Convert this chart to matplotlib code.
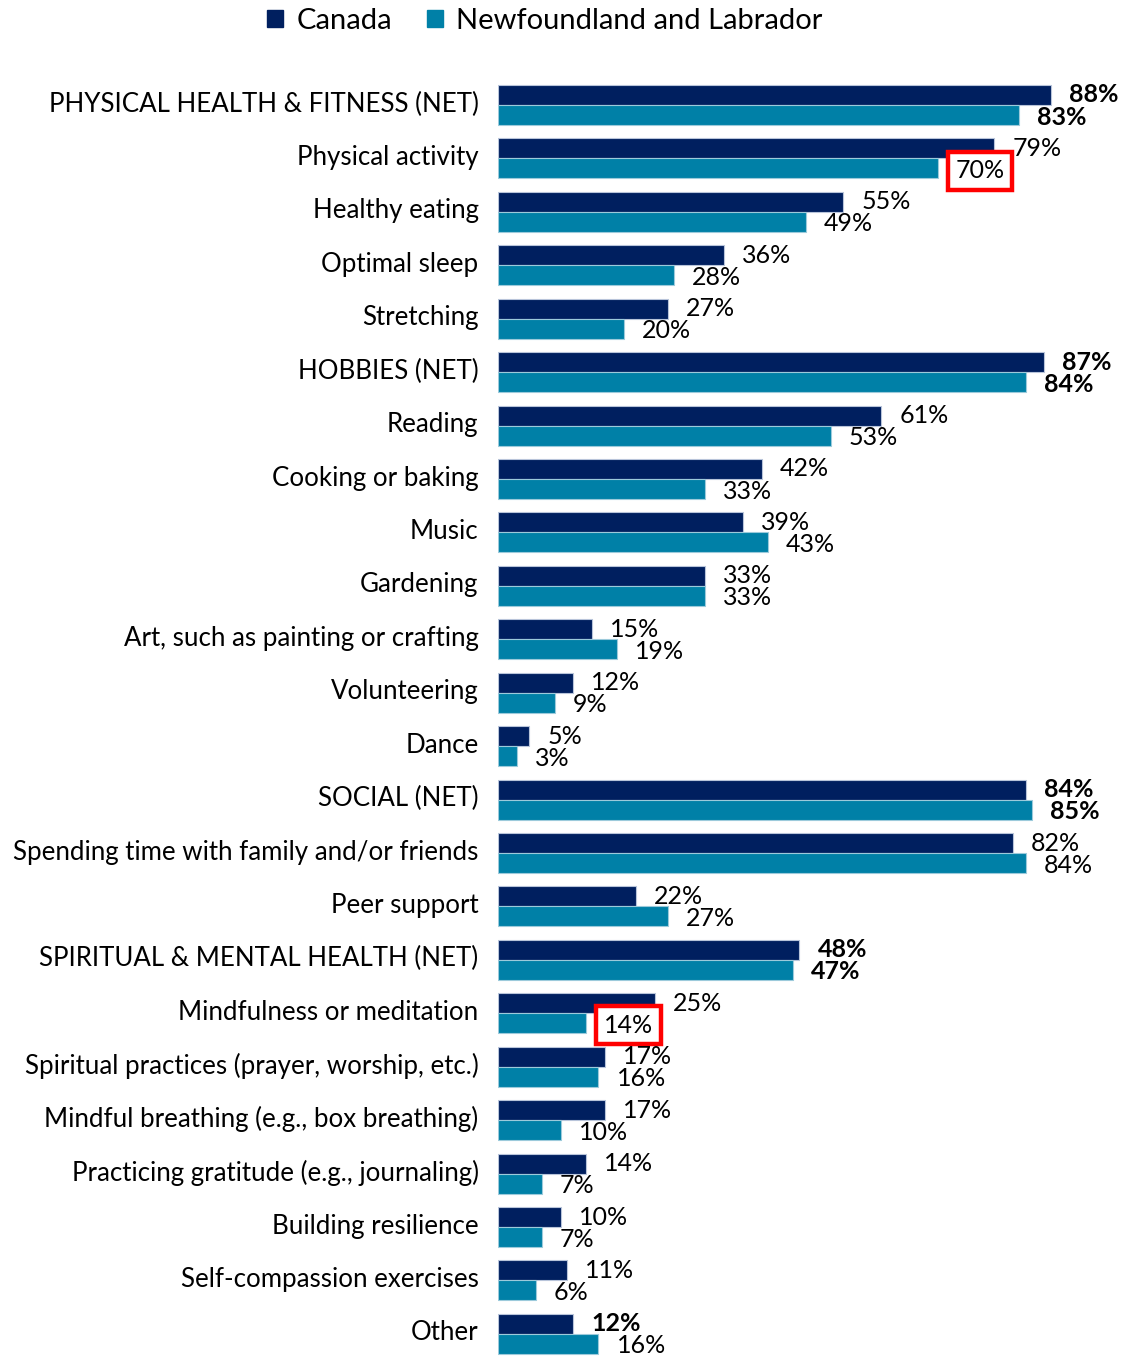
import matplotlib
matplotlib.use("Agg")
import matplotlib.pyplot as plt
import matplotlib.transforms as mtransforms
from matplotlib.patches import Rectangle

plt.rcParams['font.family'] = ['Lato', 'DejaVu Sans']

categories = [
    "PHYSICAL HEALTH & FITNESS (NET)",
    "Physical activity",
    "Healthy eating",
    "Optimal sleep",
    "Stretching",
    "HOBBIES (NET)",
    "Reading",
    "Cooking or baking",
    "Music",
    "Gardening",
    "Art, such as painting or crafting",
    "Volunteering",
    "Dance",
    "SOCIAL (NET)",
    "Spending time with family and/or friends",
    "Peer support",
    "SPIRITUAL & MENTAL HEALTH (NET)",
    "Mindfulness or meditation",
    "Spiritual practices (prayer, worship, etc.)",
    "Mindful breathing (e.g., box breathing)",
    "Practicing gratitude (e.g., journaling)",
    "Building resilience",
    "Self-compassion exercises",
    "Other",
]
canada = [88, 79, 55, 36, 27, 87, 61, 42, 39, 33, 15, 12, 5, 84, 82, 22, 48, 25, 17, 17, 14, 10, 11, 12]
nl = [83, 70, 49, 28, 20, 84, 53, 33, 43, 33, 19, 9, 3, 85, 84, 27, 47, 14, 16, 10, 7, 7, 6, 16]

net_rows = [0, 5, 13, 16]
canada_bold = net_rows + [23]
nl_bold = net_rows
highlighted_nl = [1, 17]

series_names = ["Canada", "Newfoundland and Labrador"]
colors = ["#001F5F", "#0080A7"]

W, H = 1129, 1359
fig = plt.figure(figsize=(W / 100, H / 100), dpi=100)

ax_left, ax_right = 498, 1126
ax_top, ax_bottom = 60, 1359
ax = fig.add_axes([ax_left / W, 1 - ax_bottom / H, (ax_right - ax_left) / W, (ax_bottom - ax_top) / H])

row0, step = 105, 53.43
ax.set_ylim((ax_bottom - row0) / step, (ax_top - row0) / step)
ax.set_xlim(0, 100)

bh = 0.375
ys = list(range(len(categories)))
ax.barh([y - bh / 2 for y in ys], canada, height=bh, color=colors[0],
        edgecolor="#B8C4DA", linewidth=0.8)
ax.barh([y + bh / 2 for y in ys], nl, height=bh, color=colors[1],
        edgecolor="#9CCADB", linewidth=0.8)

fs = 18
for i, (c, n) in enumerate(zip(canada, nl)):
    ax.annotate(f"{c}%", (c, i - bh / 2), xytext=(13, 0), textcoords="offset points",
                ha="left", va="center", fontsize=fs,
                fontweight="bold" if i in canada_bold else "normal", color="black")
    kw = {}
    if i in highlighted_nl:
        kw["bbox"] = dict(boxstyle="square,pad=0.3", facecolor="white",
                          edgecolor="#FF0000", linewidth=3.2)
    ax.annotate(f"{n}%", (n, i + bh / 2), xytext=(13, -1.5), textcoords="offset points",
                ha="left", va="center", fontsize=fs,
                fontweight="bold" if i in nl_bold else "normal", color="black", **kw)

ax.set_yticks(ys)
ax.set_yticklabels(categories, fontsize=18.6)
ax.tick_params(axis="y", length=0, pad=14)
shift = mtransforms.ScaledTranslation(0, 2.5 / 72, fig.dpi_scale_trans)
for lbl in ax.get_yticklabels():
    lbl.set_transform(lbl.get_transform() + shift)
ax.set_xticks([])
for s in ax.spines.values():
    s.set_visible(False)

# legend
handles = [Rectangle((0, 0), 1, 1, color=c) for c in colors]
fig.legend(handles, series_names, loc="center", bbox_to_anchor=(545 / W, 1 - 21 / H),
           ncol=2, frameon=False, fontsize=21, handlelength=0.55, handleheight=0.55,
           handletextpad=0.45, columnspacing=1.2)

fig.savefig("out.png", dpi=100)
